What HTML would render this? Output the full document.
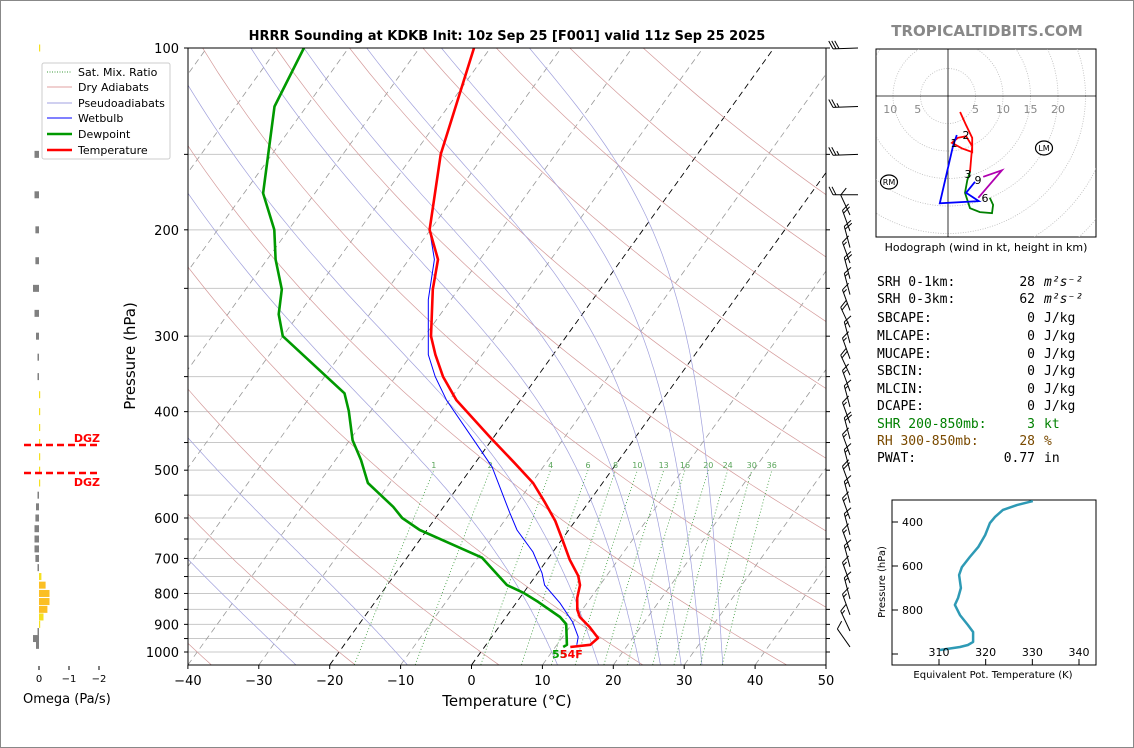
<!DOCTYPE html>
<html><head><meta charset="utf-8"><style>
html,body{margin:0;padding:0;background:#fff;}
svg{display:block;font-family:"DejaVu Sans","Liberation Sans",sans-serif;}
.mono{font-family:"DejaVu Sans Mono","Liberation Mono",monospace;font-size:13px;}
</style></head><body>
<svg id="s" width="1134" height="748" viewBox="0 0 1134 748" xmlns="http://www.w3.org/2000/svg">
<rect x="0.5" y="0.5" width="1133" height="747" fill="#fff" stroke="#888"/>
<defs><clipPath id="mc"><rect x="188" y="48" width="638" height="617"/></clipPath>
<clipPath id="hc"><rect x="876" y="49" width="220" height="188"/></clipPath>
<clipPath id="tc"><rect x="892" y="500" width="204" height="165"/></clipPath></defs>
<g id="main" clip-path="url(#mc)"></g>
<g id="axes"></g>
<text x="507" y="40" text-anchor="middle" font-weight="bold" font-size="13">HRRR Sounding at KDKB Init: 10z Sep 25 [F001] valid 11z Sep 25 2025</text>
<text x="987" y="36" text-anchor="middle" font-weight="bold" font-size="15" fill="#888">TROPICALTIDBITS.COM</text>
<text x="507" y="706" text-anchor="middle" font-size="15">Temperature (°C)</text>
<text transform="translate(135,356) rotate(-90)" text-anchor="middle" font-size="15">Pressure (hPa)</text>
<g>
<rect x="42" y="63" width="128" height="96" rx="2" fill="#fff" stroke="#ccc"/>
<line x1="47" y1="72" x2="72" y2="72" stroke="#3a9a3a" stroke-dasharray="1,1.5"/><text x="78" y="76" font-size="11">Sat. Mix. Ratio</text>
<line x1="47" y1="87" x2="72" y2="87" stroke="#e0a0a0"/><text x="78" y="91" font-size="11">Dry Adiabats</text>
<line x1="47" y1="103" x2="72" y2="103" stroke="#a0a0e0"/><text x="78" y="107" font-size="11">Pseudoadiabats</text>
<line x1="47" y1="118" x2="72" y2="118" stroke="#00f"/><text x="78" y="122" font-size="11">Wetbulb</text>
<line x1="47" y1="134" x2="72" y2="134" stroke="#009900" stroke-width="2.5"/><text x="78" y="138" font-size="11">Dewpoint</text>
<line x1="47" y1="150" x2="72" y2="150" stroke="#f00" stroke-width="2.5"/><text x="78" y="154" font-size="11">Temperature</text>
</g>
<g id="omega"></g>
<g id="barbs"></g>
<g id="hodo"></g>
<g id="stats"></g>
<g id="thetae"></g>
</svg>
<script>
// ---------- data ----------
const tempP=[100,150,200,224,251,300,322,350,383,441,486,525,566,607,655,704,748,775,814,851,875,909,948,973,981];
const tempT=[-62.3,-56.2,-50.1,-45.9,-43.6,-39.1,-36.6,-33.3,-29.0,-20.5,-14.5,-9.8,-6.1,-2.8,0.3,3.2,6.0,7.2,8.1,9.3,10.4,12.8,15.1,14.7,12.1];
const dewP=[100,125,174,200,224,251,276,300,373,399,446,481,525,552,575,600,628,658,698,775,798,826,875,899,973,981];
const dewT=[-86.3,-84.5,-77.3,-72.0,-68.8,-64.9,-62.8,-60.0,-45.5,-43.1,-39.6,-36.4,-33.1,-29.8,-27.1,-24.7,-21.0,-15.9,-9.4,-3.1,0.0,3.0,7.6,9.2,11.4,11.1];
const wbP=[100,150,200,224,261,322,350,383,468,494,589,628,683,740,775,830,892,944,973];
const wbT=[-62.3,-56.2,-50.1,-46.4,-43.2,-37.6,-34.4,-30.4,-20.0,-17.2,-10.0,-7.3,-2.8,0.6,2.2,6.2,9.9,12.2,12.8];
const mixRatios=[1,2,4,6,8,10,13,16,20,24,30,36];
const dryThetaC=[-80,-60,-40,-20,0,20,40,60,80,100,120,140,160,180];
const moistT0=[-88,-68,-48,-28,-12,10,16,22,25,28,31,34];
const isotherms=[-140,-130,-120,-110,-100,-90,-80,-70,-60,-50,-40,-30,-20,-10,0,10,20,30,40,50];
const pLevels=[100,150,200,250,300,350,400,450,500,550,600,650,700,750,800,850,900,950,1000];
const pLabels=[100,200,300,400,500,600,700,800,900,1000];
const tTicks=[-40,-30,-20,-10,0,10,20,30,40,50];
const omegaP=[100,150,175,200,225,250,275,300,325,350,375,400,425,450,475,500,525,550,575,600,625,650,675,700,725,750,775,800,825,850,875,900,925,950,975];
const omegaV=[-0.01,0.15,0.15,0.12,0.12,0.2,0.15,0.1,0.05,0.05,-0.01,-0.01,-0.01,-0.01,-0.01,-0.01,-0.01,0.05,0.1,0.12,0.15,0.15,0.15,0.12,0.05,-0.08,-0.22,-0.35,-0.35,-0.28,-0.15,-0.03,0.05,0.2,0.1];
const barbP=[100,125,150,175,189,201,214,227,241,256,272,290,308,327,348,370,393,418,444,472,501,533,566,602,640,680,723,769,817,868,923,981];
const barbDir=[268,268,268,270,335,340,345,340,345,345,340,335,345,340,335,340,345,340,345,340,345,340,345,340,345,340,345,340,345,340,335,325];
const barbSpd=[30,25,25,20,10,20,20,15,20,15,15,20,15,15,20,15,15,15,20,15,15,20,15,15,15,15,15,15,15,15,15,10];
const hodoRedU=[2.2,3.3,4.4,4.4,2.5,0.7,1.8,3.3,4.4,4.0];
const hodoRedV=[-2.9,-5.3,-7.6,-10.2,-9.5,-8.5,-7.6,-7.3,-9.1,-13.8];
const hodoGreenU=[4.0,3.5,3.1,4.0,5.8,8.0,8.2,7.6];
const hodoGreenV=[-13.8,-15.3,-17.6,-20.4,-21.1,-21.3,-19.8,-18.5];
const hodoMagU=[5.5,9.8,6.4];
const hodoMagV=[-18.5,-13.5,-14.7];
const hodoBlueU=[4.9,3.3,5.6,-1.5,0.9,1.6];
const hodoBlueV=[-15.6,-17.6,-19.1,-19.5,-9.1,-7.1];
const teP=[305,323,345,377,405,459,514,559,605,641,700,745,777,823,868,900,945,959,968,982];
const teK=[330.1,326.7,323.7,322.0,320.9,319.9,318.4,316.6,314.9,314.3,314.7,314.1,313.4,314.5,316.2,317.3,317.3,316.2,314.5,310.2];

// ---------- helpers ----------
const NS='http://www.w3.org/2000/svg';
function mk(parent,tag,attrs,txt){const e=document.createElementNS(NS,tag);for(const k in attrs)e.setAttribute(k,attrs[k]);if(txt!==undefined)e.textContent=txt;parent.appendChild(e);return e;}
function yP(p){return 48+604*Math.log10(p/100);}
function xT(T,p){return 471.5+7.09*T+0.72*(665-yP(p));}
function pts(Ts,Ps){return Ts.map((t,i)=>xT(t,Ps[i]).toFixed(1)+','+yP(Ps[i]).toFixed(1)).join(' ');}
const main=document.getElementById('main'), axes=document.getElementById('axes');

pLevels.forEach(p=>{const e=mk(main,'line',{x1:188,x2:826,y1:yP(p),y2:yP(p),stroke:'#c8c8c8','stroke-width':1});

});
isotherms.forEach(T=>{const blk=(T===0||T===-20);const e=mk(main,'line',{x1:xT(T,1050),y1:yP(1050),x2:xT(T,100),y2:yP(100),stroke:blk?'#000':'#999','stroke-width':blk?0.9:0.8,'stroke-dasharray':'6,4'});

});
dryThetaC.forEach(tc=>{const th=tc+273.15;const Ps=[],Ts=[];for(let p=1050;p>=100;p-=10){Ps.push(p);Ts.push(th*Math.pow(p/1000,0.2857)-273.15);}
const e=mk(main,'polyline',{points:pts(Ts,Ps),fill:'none',stroke:'#d49a9a','stroke-width':0.7});

});
function es(T){return 6.112*Math.exp(17.67*T/(T+243.5));}
function dTdp(T,p){const Tk=T+273.15;const rs=0.622*es(T)/(p-es(T));const Lv=2.501e6,Rd=287.04,cp=1005.7;
return (Rd*Tk+Lv*rs)/(cp+Lv*Lv*rs*0.622/(Rd*Tk*Tk))/p;}
moistT0.forEach(t0=>{const up=[],dn=[];let T=t0;for(let p=1000;p>=100;p-=5){up.push([p,T]);T-=dTdp(T,p)*5;}
T=t0;for(let p=1000;p<=1050;p+=5){dn.unshift([p,T]);T+=dTdp(T,p)*5;}
const all=dn.concat(up.slice(1));
const e=mk(main,'polyline',{points:pts(all.map(a=>a[1]),all.map(a=>a[0])),fill:'none',stroke:'#a0a0dc','stroke-width':0.7});

});
function tdFromW(w,p){const e=w*p/(622+w);const l=Math.log(e/6.112);return 243.5*l/(17.67-l);}
mixRatios.forEach(w=>{const Ps=[],Ts=[];for(let p=1050;p>=500;p-=25){Ps.push(p);Ts.push(tdFromW(w,p));}
const e=mk(main,'polyline',{points:pts(Ts,Ps),fill:'none',stroke:'#3a9a3a','stroke-width':0.8,'stroke-dasharray':'1,2.2'});


const t=mk(main,'text',{x:xT(tdFromW(w,500),500),y:yP(500)-2,'text-anchor':'middle','font-size':8,fill:'#5aa55a'},String(w));

});
let e;
e=mk(main,'polyline',{points:pts(wbT,wbP),fill:'none',stroke:'#00f','stroke-width':1});


e=mk(main,'polyline',{points:pts(dewT,dewP),fill:'none',stroke:'#009900','stroke-width':2.6,'stroke-linejoin':'round'});


e=mk(main,'polyline',{points:pts(tempT,tempP),fill:'none',stroke:'#f00','stroke-width':2.6,'stroke-linejoin':'round'});


e=mk(main,'text',{x:552,y:658,'font-size':11,'font-weight':'bold',fill:'#00a000'},'55');


e=mk(main,'text',{x:560,y:658,'font-size':11,'font-weight':'bold',fill:'#f00'},'54F');



mk(axes,'rect',{x:188,y:48,width:638,height:617,fill:'none',stroke:'#000','stroke-width':1});
pLevels.forEach(p=>{mk(axes,'line',{x1:184,x2:188,y1:yP(p),y2:yP(p),stroke:'#000'});mk(axes,'line',{x1:826,x2:830,y1:yP(p),y2:yP(p),stroke:'#000'});});
pLabels.forEach(p=>{const t=mk(axes,'text',{x:179,y:yP(p)+5,'text-anchor':'end','font-size':13},String(p));

});
tTicks.forEach(T=>{const x=471.5+7.09*T;mk(axes,'line',{x1:x,x2:x,y1:665,y2:669,stroke:'#000'});
const t=mk(axes,'text',{x:x,y:685,'text-anchor':'middle','font-size':13},(T<0?'\u2212':'')+Math.abs(T));

});

const om=document.getElementById('omega');
function xO(v){return 39-30*v;}
omegaP.forEach((p,i)=>{const v=omegaV[i];const x0=xO(0),x1=xO(v);const col=v>=0?'#808080':(v<-0.15?'#fbbf24':'#f5e020');
const w=Math.max(Math.abs(x1-x0),1.2);
const r=mk(om,'rect',{x:Math.min(x0,x1),y:yP(p)-3.5,width:w,height:7,fill:col});

});
mk(om,'line',{x1:24,x2:98,y1:445,y2:445,stroke:'#f00','stroke-width':2.5,'stroke-dasharray':'7,4'});
mk(om,'line',{x1:24,x2:98,y1:473,y2:473,stroke:'#f00','stroke-width':2.5,'stroke-dasharray':'7,4'});
mk(om,'text',{x:100,y:442,'text-anchor':'end','font-size':11,'font-weight':'bold',fill:'#f00'},'DGZ');
mk(om,'text',{x:100,y:486,'text-anchor':'end','font-size':11,'font-weight':'bold',fill:'#f00'},'DGZ');
[0,-1,-2].forEach(v=>{mk(om,'line',{x1:xO(v),x2:xO(v),y1:666,y2:670,stroke:'#000'});mk(om,'text',{x:xO(v),y:682,'text-anchor':'middle','font-size':10},v===0?'0':'\u2212'+Math.abs(v));});
mk(om,'text',{x:23,y:703,'font-size':13},'Omega (Pa/s)');

const bg=document.getElementById('barbs');
barbP.forEach((p,i)=>{const y=yP(p);const d=barbDir[i]*Math.PI/180;const bx=p<180?858:850;
const L=p<180?25:22;const dx=Math.sin(d),dy=-Math.cos(d);
const tx=bx+dx*L,ty=y+dy*L;
const g=mk(bg,'g',{stroke:'#000','stroke-width':1,fill:'none'});


mk(g,'line',{x1:bx,y1:y,x2:tx,y2:ty});
let s=barbSpd[i];let pos=0;
const px=-dy,py=dx;
while(s>=10){const sx=tx-dx*pos,sy=ty-dy*pos;mk(g,'line',{x1:sx,y1:sy,x2:sx+px*8+dx*4,y2:sy+py*8+dy*4});s-=10;pos+=3;}
if(s>=5){if(pos===0)pos=3;const sx=tx-dx*pos,sy=ty-dy*pos;mk(g,'line',{x1:sx,y1:sy,x2:sx+px*4+dx*2,y2:sy+py*4+dy*2});}
});

const hg=document.getElementById('hodo');
const hcx=948,hcy=96,hs=5.5;
function hx(u){return hcx+u*hs;} function hy(v){return hcy-v*hs;}
mk(hg,'rect',{x:876,y:49,width:220,height:188,fill:'#fff',stroke:'#000'});
const hin=mk(hg,'g',{'clip-path':'url(#hc)'});
[5,10,15,20,25,30,35].forEach(r=>mk(hin,'circle',{cx:hcx,cy:hcy,r:r*hs,fill:'none',stroke:'#bbb','stroke-width':0.8,'stroke-dasharray':'1,1.5'}));
mk(hin,'line',{x1:876,x2:1096,y1:hcy,y2:hcy,stroke:'#000','stroke-width':0.8});
mk(hin,'line',{x1:hcx,x2:hcx,y1:49,y2:237,stroke:'#000','stroke-width':0.8});
[[-10,'10'],[-5,'5'],[5,'5'],[10,'10'],[15,'15'],[20,'20']].forEach(a=>mk(hin,'text',{x:hx(a[0]+(a[0]>0?0:-0.5)),y:113,'text-anchor':'middle','font-size':11,fill:'#888'},a[1]));
function hline(U,V,c,name){const el=mk(hin,'polyline',{points:U.map((u,i)=>hx(u).toFixed(1)+','+hy(V[i]).toFixed(1)).join(' '),fill:'none',stroke:c,'stroke-width':1.8});

}
hline(hodoRedU,hodoRedV,'#f00','hodo-0-3km');
hline(hodoGreenU,hodoGreenV,'#008000','hodo-3-6km');
hline(hodoMagU,hodoMagV,'#b000b0','hodo-6-9km');
hline(hodoBlueU,hodoBlueV,'#00f','hodo-9km-plus');
[['1',954,147],['2',966,139],['3',968,178],['9',978,184],['6',985,202]].forEach(a=>mk(hin,'text',{x:a[1],y:a[2],'text-anchor':'middle','font-size':11},a[0]));
[['RM',889,182],['LM',1044,148]].forEach(a=>{mk(hin,'ellipse',{cx:a[1],cy:a[2],rx:8.5,ry:7,fill:'#fff',stroke:'#000','stroke-width':1.2});mk(hin,'text',{x:a[1],y:a[2]+3,'text-anchor':'middle','font-size':8},a[0]);});
mk(hg,'text',{x:986,y:251,'text-anchor':'middle','font-size':11},'Hodograph (wind in kt, height in km)');

const st=document.getElementById('stats');
const rows=[['SRH 0-1km:','28',1035,'m²s⁻²','#000',286],['SRH 0-3km:','62',1035,'m²s⁻²','#000',303],
['SBCAPE:','0',1035,'J/kg','#000',322],['MLCAPE:','0',1035,'J/kg','#000',340],['MUCAPE:','0',1035,'J/kg','#000',358],
['SBCIN:','0',1035,'J/kg','#000',375],['MLCIN:','0',1035,'J/kg','#000',393],['DCAPE:','0',1035,'J/kg','#000',410],
['SHR 200-850mb:','3',1035,'kt','#008000',428],['RH 300-850mb:','28',1035,'%','#7a4a00',445],['PWAT:','0.77',1035,'in','#000',462]];
rows.forEach(r=>{const g=mk(st,'g',{fill:r[4]});


mk(g,'text',{x:877,y:r[5],class:'mono'},r[0]);mk(g,'text',{x:r[2],y:r[5],class:'mono','text-anchor':'end'},r[1]);
mk(g,'text',{x:1044,y:r[5],class:'mono','font-style':r[3].startsWith('m')?'italic':'normal'},r[3]);});

const te=document.getElementById('thetae');
function tx2(K){return 939+(K-310)*4.667;} function ty2(p){return 522+(p-400)*0.22;}
mk(te,'rect',{x:892,y:500,width:204,height:165,fill:'#fff',stroke:'#000'});
const tin=mk(te,'g',{'clip-path':'url(#tc)'});
e=mk(tin,'polyline',{points:teK.map((k,i)=>tx2(k).toFixed(1)+','+ty2(teP[i]).toFixed(1)).join(' '),fill:'none',stroke:'#2e9ab5','stroke-width':2.5,'stroke-linejoin':'round'});


[400,600,800,1000].forEach(p=>mk(te,'line',{x1:892,x2:898,y1:ty2(p),y2:ty2(p),stroke:'#000'}));
[400,600,800].forEach(p=>mk(te,'text',{x:923,y:ty2(p)+4,'text-anchor':'end','font-size':11},String(p)));
[310,320,330,340].forEach(k=>{mk(te,'line',{x1:tx2(k),x2:tx2(k),y1:665,y2:659,stroke:'#000'});mk(te,'text',{x:tx2(k),y:656,'text-anchor':'middle','font-size':11},String(k));});
mk(te,'text',{transform:'translate(885,582) rotate(-90)','text-anchor':'middle','font-size':10},'Pressure (hPa)');
mk(te,'text',{x:993,y:678,'text-anchor':'middle','font-size':10},'Equivalent Pot. Temperature (K)');
</script>
</body></html>
